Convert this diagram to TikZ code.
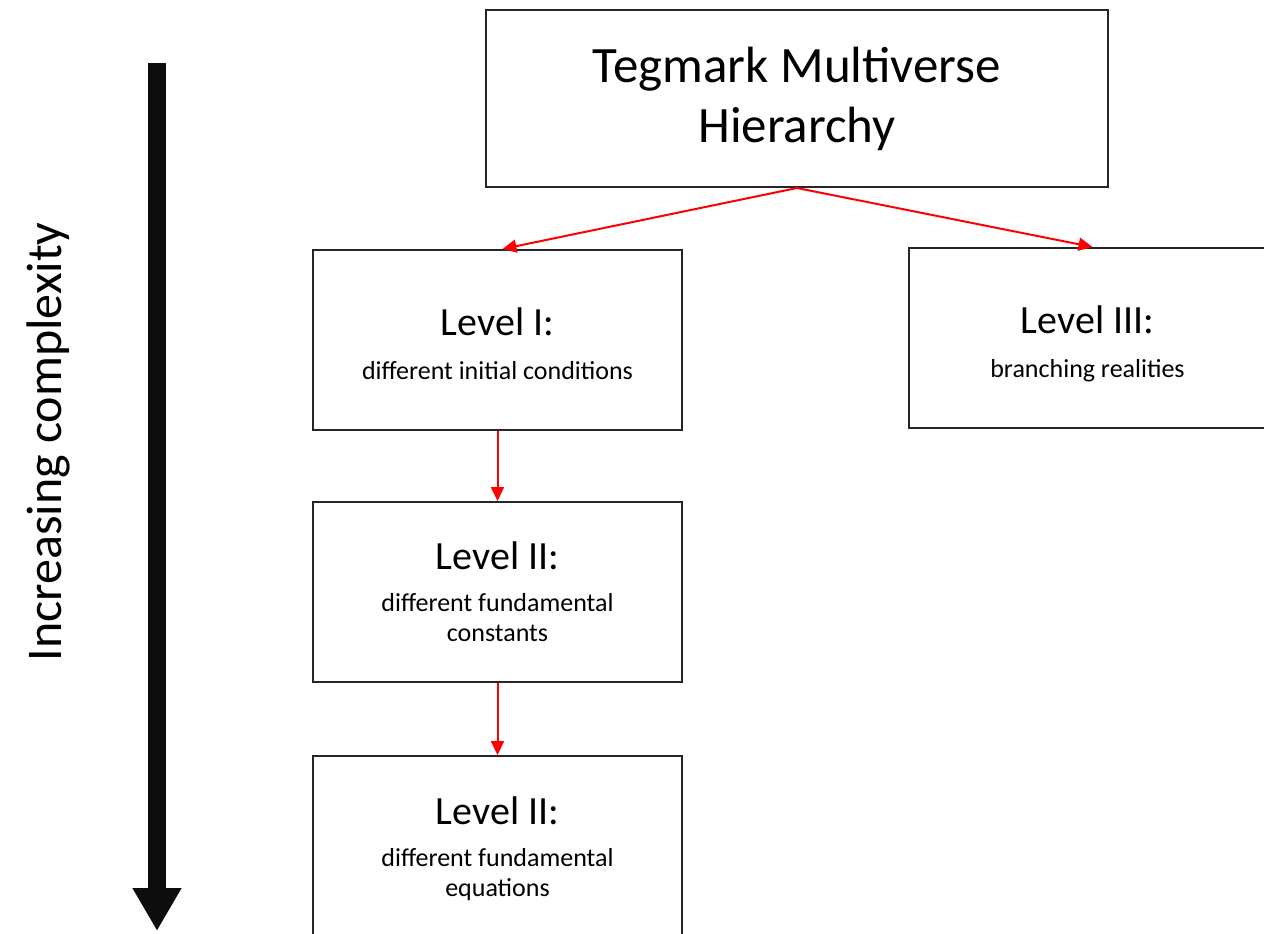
\documentclass[tikz,border=0pt]{standalone}
\usepackage{fontspec}
\setmainfont{Carlito}
\usetikzlibrary{arrows.meta,calc}
\begin{document}
\begin{tikzpicture}[x=1pt,y=-1pt,
  box/.style={draw=black!85, line width=2pt, minimum width=369pt, minimum height=180pt, inner sep=0pt},
  txt/.style={align=center, inner sep=0pt, font=\fontsize{26}{30}\selectfont},
  link/.style={red, line width=2pt, -{Triangle[width=13pt,length=14pt]}},
  bigarrow/.style={black!95, line width=18pt, -{Triangle[width=46pt,length=43pt]}}]
\useasboundingbox (0,0) rectangle (1264,934);
\node[box, minimum width=622pt, minimum height=177pt] (top) at (797,98.5) {};
\node[txt, font=\fontsize{51}{60}\selectfont] (ttop) at (top.center) {Tegmark Multiverse\\Hierarchy};
\node[box] (L1) at (497.5,340) {};
\node[txt] (t1) at ($(L1.center)+(0,3.5)$) {{\fontsize{40}{40}\selectfont Level I:}\\[14pt]different initial conditions};
\node[box, minimum width=357pt] (L3) at (1087.5,338) {};
\node[txt] (t3) at ($(L3.center)+(0,6)$) {{\fontsize{40}{40}\selectfont Level III:}\\[14pt]branching realities};
\node[box] (L2) at (497.5,592) {};
\node[txt] (t2) at (L2.center) {{\fontsize{40}{40}\selectfont Level II:}\\[12pt]different fundamental\\constants};
\node[box] (L4) at (497.5,846) {};
\node[txt] (t4) at ($(L4.center)+(0,3)$) {{\fontsize{40}{40}\selectfont Level II:}\\[12pt]different fundamental\\equations};
\draw[link] (top.south) -- ($(L1.north)+(5,0)$);
\draw[link] (top.south) -- ($(L3.north)+(5,0)$);
\draw[link] (L1.south) -- (L2.north);
\draw[link] (L2.south) -- (L4.north);
\coordinate (atop) at (157,63);
\coordinate (abot) at (157,931);
\draw[bigarrow] (atop) -- (abot);
\node[rotate=90, font=\fontsize{50}{50}\selectfont] (lab) at (48,442) {Increasing complexity};
\end{tikzpicture}
\end{document}
